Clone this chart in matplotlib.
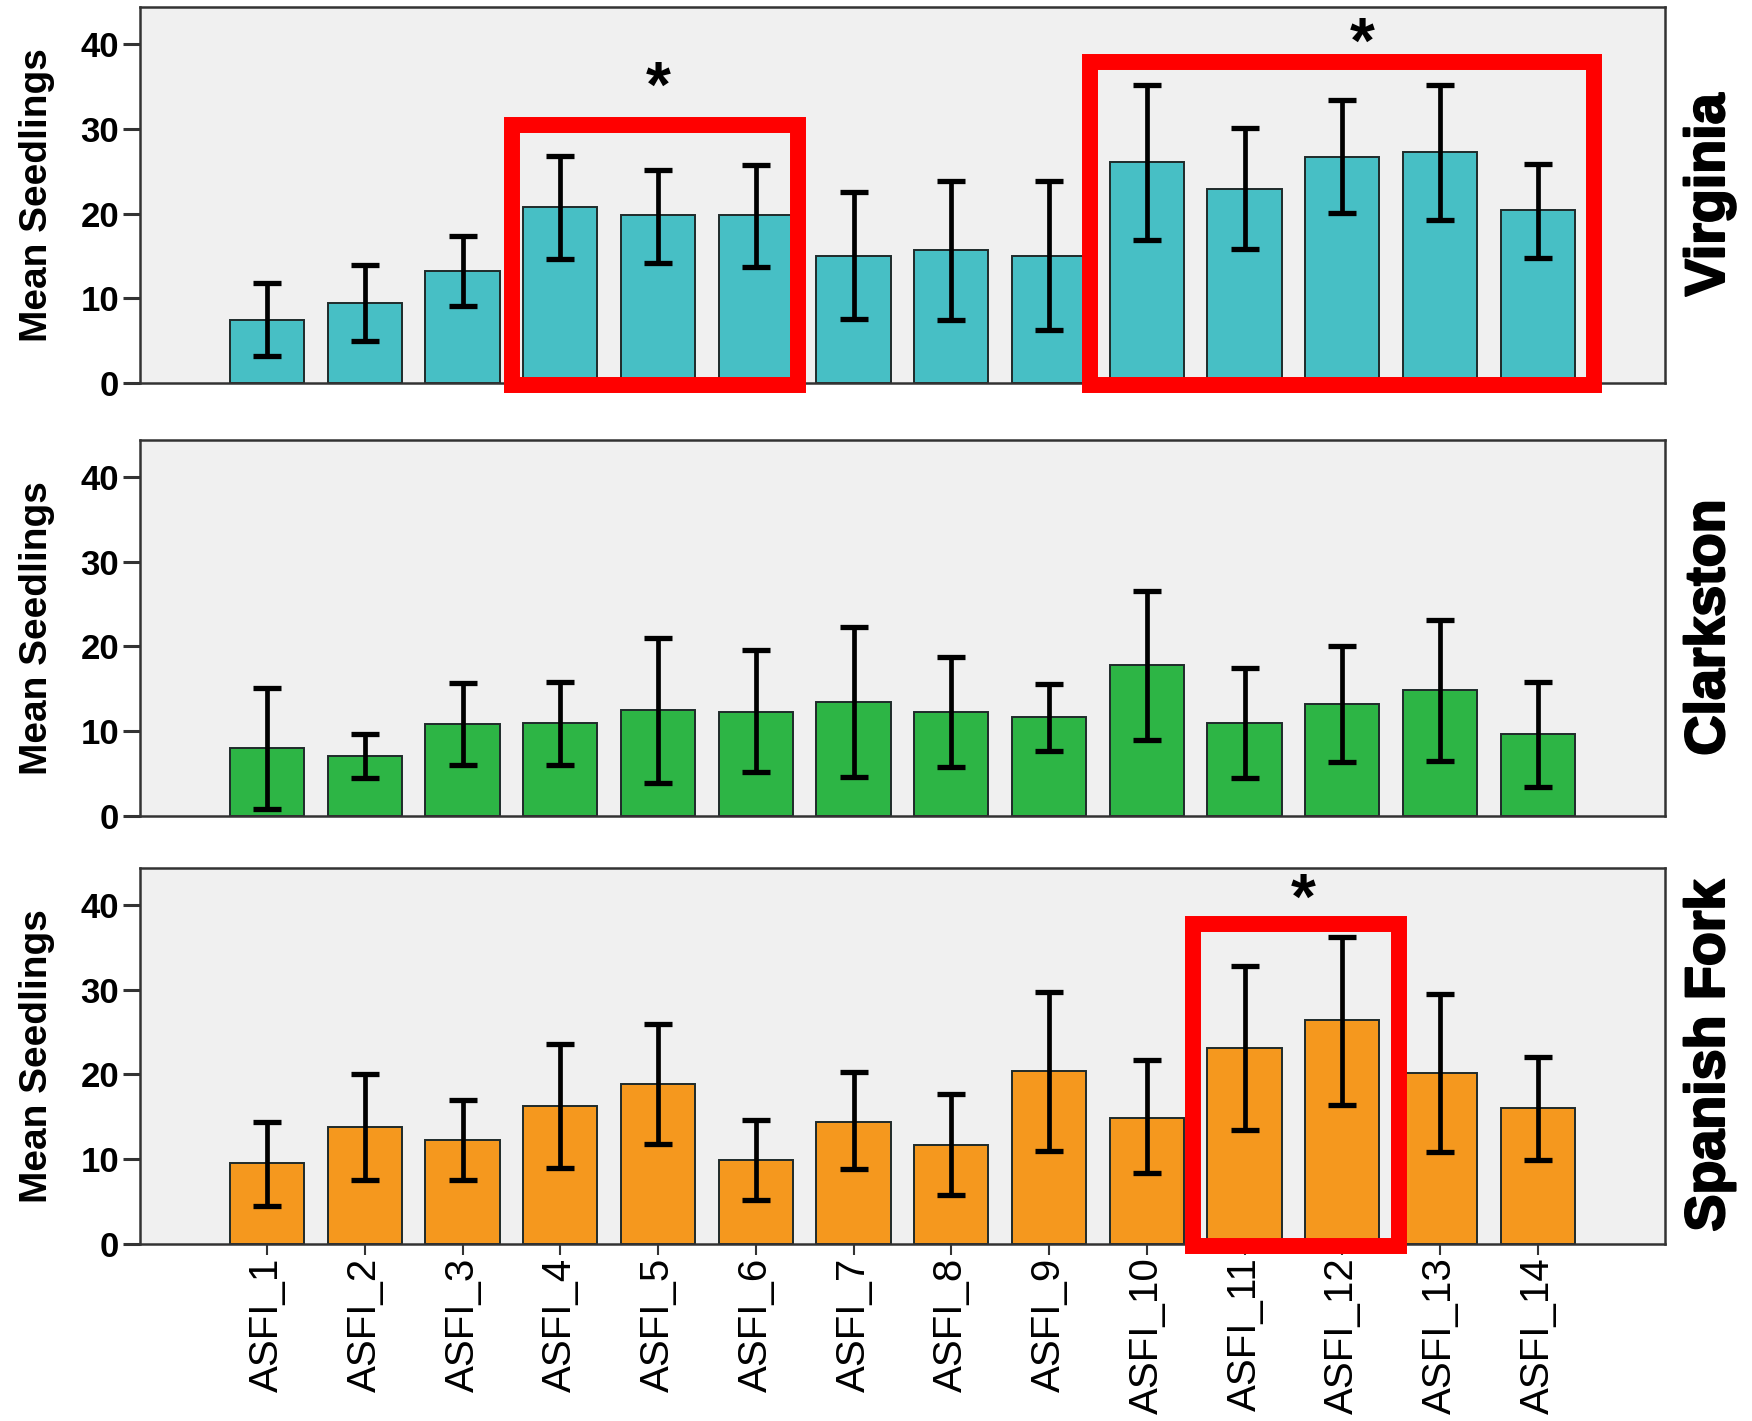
import matplotlib
matplotlib.use("Agg")
import matplotlib.pyplot as plt
import matplotlib.patheffects as pe
from matplotlib.patches import Rectangle
import numpy as np

plt.rcParams['font.family'] = ['Liberation Sans', 'DejaVu Sans']

# ASFI accessions, one bar per accession in every garden
accessions = [f"ASFI_{i}" for i in range(1, 15)]

# Virginia garden: mean seedlings with error-bar limits
virginia_mean = [7.4, 9.5, 13.2, 20.8, 19.8, 19.9, 15.0, 15.7, 15.0, 26.1, 22.9, 26.7, 27.3, 20.4]
virginia_hi = [11.8, 13.9, 17.4, 26.8, 25.2, 25.8, 22.5, 23.9, 23.8, 35.2, 30.1, 33.4, 35.2, 25.9]
virginia_lo = [3.2, 4.9, 9.1, 14.7, 14.2, 13.7, 7.6, 7.4, 6.3, 16.9, 15.8, 20.1, 19.3, 14.8]

# Clarkston garden
clarkston_mean = [8.0, 7.0, 10.8, 10.9, 12.5, 12.2, 13.4, 12.2, 11.6, 17.8, 10.9, 13.2, 14.8, 9.6]
clarkston_hi = [15.1, 9.6, 15.7, 15.8, 21.0, 19.6, 22.3, 18.8, 15.6, 26.5, 17.4, 20.1, 23.1, 15.8]
clarkston_lo = [0.8, 4.4, 6.0, 6.0, 3.9, 5.1, 4.6, 5.8, 7.6, 8.9, 4.4, 6.3, 6.5, 3.4]

# Spanish Fork garden
spanish_mean = [9.5, 13.8, 12.2, 16.3, 18.9, 9.9, 14.4, 11.7, 20.4, 14.9, 23.1, 26.4, 20.2, 16.0]
spanish_hi = [14.4, 20.0, 17.0, 23.6, 25.9, 14.6, 20.3, 17.7, 29.7, 21.7, 32.8, 36.2, 29.5, 22.1]
spanish_lo = [4.4, 7.5, 7.5, 8.9, 11.8, 5.1, 8.8, 5.7, 11.0, 8.3, 13.4, 16.4, 10.8, 9.9]

gardens = ["Virginia", "Clarkston", "Spanish Fork"]
colors = ["#47BFC5", "#2DB545", "#F5981E"]

# highlighted groups per panel: (box left, box right, box top, star x, star y)
highlights = [
    [(2.51, 5.43, 30.5, 4.0, 34.6), (8.42, 13.57, 37.9, 11.2, 39.8)],
    [],
    [(9.47, 11.58, 37.8, 10.6, 40.4)],
]

panels = [
    (virginia_mean, virginia_lo, virginia_hi),
    (clarkston_mean, clarkston_lo, clarkston_hi),
    (spanish_mean, spanish_lo, spanish_hi),
]

fig = plt.figure(figsize=(17.52, 14.21), dpi=100)
ax_bottoms = [0.7305, 0.4260, 0.1248]
ax_height = 0.2645
heavy = [pe.withStroke(linewidth=1.6, foreground="black")]

x = np.arange(len(accessions))
for k, (means, lo, hi) in enumerate(panels):
    ax = fig.add_axes([0.0799, ax_bottoms[k], 0.8704, ax_height])
    ax.set_facecolor("#F0F0F0")
    means = np.array(means)
    yerr = np.vstack([means - np.array(lo), np.array(hi) - means])
    ax.bar(x, means, width=0.76, color=colors[k], edgecolor="#1F2A2A",
           linewidth=1.4, zorder=2)
    ax.errorbar(x, means, yerr=yerr, fmt="none", ecolor="black",
                elinewidth=3.4, capsize=10, capthick=3.8, zorder=3)

    ax.set_xlim(-1.3, 14.3)
    ax.set_ylim(0, 44.4)
    ax.set_yticks([0, 10, 20, 30, 40])
    ax.tick_params(axis="y", length=12, width=2.2, color="#333333", pad=3,
                   labelsize=25)
    for lab in ax.get_yticklabels():
        lab.set_fontweight("bold")
    for sp in ax.spines.values():
        sp.set_color("#333333")
        sp.set_linewidth(1.8)

    if k == 2:
        ax.set_xticks(x)
        ax.set_xticklabels(accessions, rotation=90, fontsize=29, va="top")
        ax.tick_params(axis="x", length=8, width=1.5, color="#333333", pad=2)
    else:
        ax.set_xticks([])

    fig.text(0.021, ax_bottoms[k] + ax_height / 2, "Mean Seedlings",
             rotation=90, ha="center", va="center", fontsize=28,
             fontweight="bold")
    ax.text(1.0295, 0.5, gardens[k], transform=ax.transAxes, rotation=90,
            ha="center", va="center", fontsize=40, fontweight="bold",
            path_effects=heavy)

    for x0, x1, top, sx, sy in highlights[k]:
        ax.add_patch(Rectangle((x0, -0.3), x1 - x0, top + 0.3, fill=False,
                               edgecolor="#FF0000", linewidth=11.5,
                               joinstyle="miter", clip_on=False, zorder=4))
        ax.text(sx, sy, "*", ha="center", va="center", fontsize=46,
                fontweight="bold", zorder=5)

fig.savefig("out.png", dpi=100)
